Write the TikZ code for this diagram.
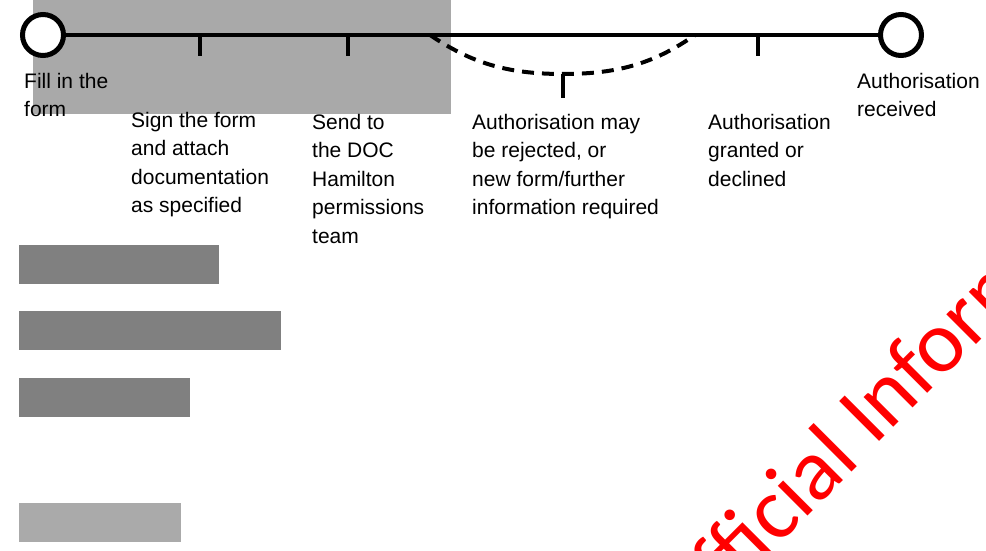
\documentclass[tikz,border=0pt]{standalone}
\usepackage{fontspec}
\setmainfont{Liberation Sans}
\newfontfamily\wmfont{Carlito}
\definecolor{boxgray}{HTML}{A9A9A9}
\definecolor{bardark}{HTML}{808080}
\definecolor{barlight}{HTML}{AAAAAA}
\begin{document}
\begin{tikzpicture}[x=1pt,y=-1pt,
  lbl/.style={font=\fontsize{21}{28.5}\selectfont, align=left, anchor=north west, inner sep=0pt},
  track/.style={line width=4pt},
  tickmark/.style={line width=4pt},
  branch/.style={line width=4pt, dash pattern=on 12pt off 8pt},
  endpt/.style={circle, draw, line width=5pt, fill=white, minimum size=41pt, inner sep=0pt},
  wm/.style={font=\wmfont\fontsize{88}{88}\selectfont, text=red, inner sep=0pt, rotate=45}]
\useasboundingbox (0,0) rectangle (986,551);
\clip (0,0) rectangle (986,551);

% redaction block behind the timeline
\fill[boxgray] (33,0) rectangle (451,114);

% end points of the timeline
\node[endpt] (start) at (43,35) {};
\node[endpt] (finish) at (901,35) {};
\draw[track] (start.east) -- (finish.west);

% intermediate ticks
\coordinate (t1) at (200,35);  \coordinate (t1e) at (200,56);
\coordinate (t2) at (348,35);  \coordinate (t2e) at (348,56);
\coordinate (t4) at (758,35);  \coordinate (t4e) at (758,56);
\draw[tickmark] (t1) -- (t1e);
\draw[tickmark] (t2) -- (t2e);
\draw[tickmark] (t4) -- (t4e);

% optional dashed detour
\coordinate (fork) at (430,35);
\coordinate (dip) at (563,74);
\coordinate (join) at (695,35);
\coordinate (t3e) at (563,98);
\draw[branch] (fork) .. controls (470,62) and (505,74) .. (dip)
              .. controls (621,74) and (656,62) .. (join);
\draw[tickmark] (dip) -- (t3e);

% step labels
\node[lbl] (l1) at (24,72) {\rule{0pt}{16pt}Fill in the\\form};
\node[lbl] (l2) at (131,111) {\rule{0pt}{16pt}Sign the form\\and attach\\documentation\\as specified};
\node[lbl] (l3) at (312,113) {\rule{0pt}{16pt}Send to\\the DOC\\Hamilton\\permissions\\team};
\node[lbl] (l4) at (472,113) {\rule{0pt}{16pt}Authorisation may\\be rejected, or\\new form/further\\information required};
\node[lbl] (l5) at (708,113) {\rule{0pt}{16pt}Authorisation\\granted or\\declined};
\node[lbl] (l6) at (857,72) {\rule{0pt}{16pt}Authorisation\\received};

% redaction bars
\fill[bardark] (19,245) rectangle (219,284);
\fill[bardark] (19,311) rectangle (281,350);
\fill[bardark] (19,378) rectangle (190,417);
\fill[barlight] (19,503) rectangle (181,542);

% watermark
\node[wm, anchor=base east] (wm1) at (862,462) {Official};
\node[wm, anchor=base west] (wm2) at (874,447) {Information};
\end{tikzpicture}
\end{document}
